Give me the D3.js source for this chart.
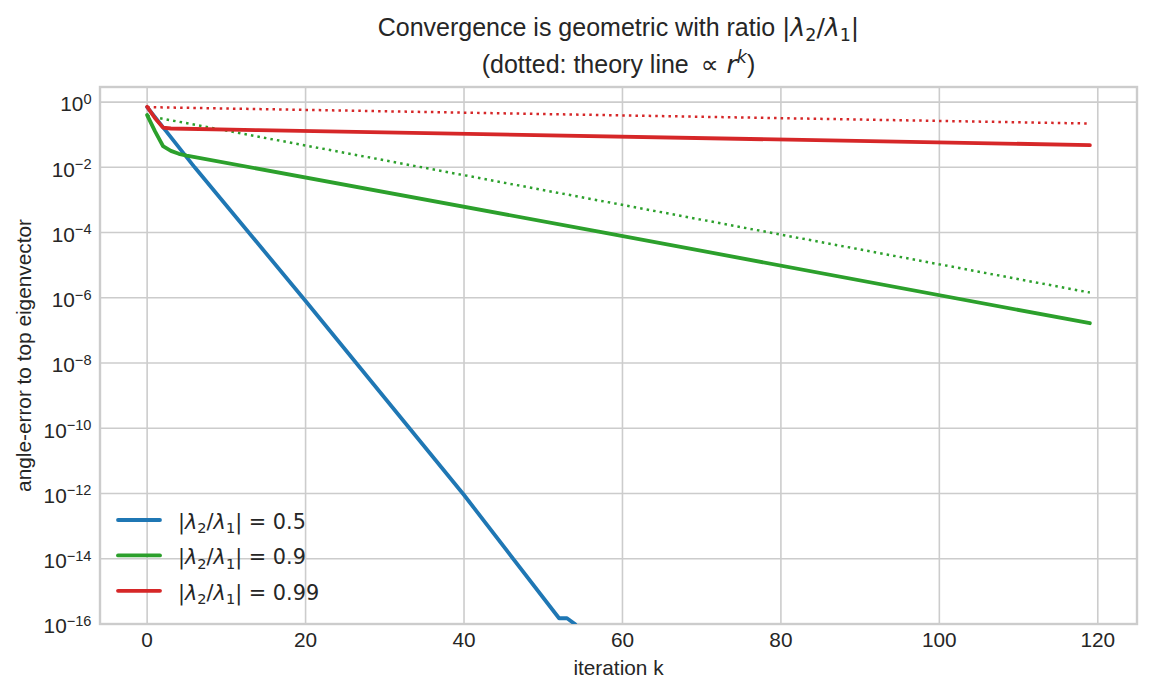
<!DOCTYPE html>
<html>
<head>
<meta charset="utf-8">
<script src="https://cdn.jsdelivr.net/npm/d3@7/dist/d3.min.js"></script>
<style>
  html, body { margin: 0; padding: 0; background: #fff; }
  svg { display: block; }
</style>
</head>
<body>
<div id="chart"></div>
<script>
// --- data (iteration k, angle error) ---
const ratioLabels = ["0.5", "0.9", "0.99"];
const seriesColors = ["#1f77b4", "#2ca02c", "#d62728"];

const errRatio05 = [[0, 0.7], [6, 1.0e-2], [20, 8e-7], [40, 9e-13], [52, 1.5e-16], [53, 1.5e-16], [54, 1.0e-16], [55, 5e-17]];
const errRatio09 = [[0, 0.4], [1, 0.126], [2, 0.045], [3, 0.032], [4, 0.026], [5, 0.023], [57, 1.07e-4], [119, 1.66e-7]];
const errRatio099 = [[0, 0.72], [1, 0.32], [2, 0.165], [3, 0.155], [14, 0.138], [119, 0.048]];

// dotted theory lines (only visible for 0.9 and 0.99)
const theoryRatio09 = [[0, 0.38], [119, 1.45e-6]];
const theoryRatio099 = [[0, 0.7], [119, 0.22]];

const xTicks = [0, 20, 40, 60, 80, 100, 120];
const yTickExponents = [0, -2, -4, -6, -8, -10, -12, -14, -16];

const seriesList = [
    { label: ratioLabels[0], color: seriesColors[0], values: errRatio05, theory: null },
    { label: ratioLabels[1], color: seriesColors[1], values: errRatio09, theory: theoryRatio09 },
    { label: ratioLabels[2], color: seriesColors[2], values: errRatio099, theory: theoryRatio099 }
];

const W = 1152, H = 693;
const plotLeft = 100, plotRight = 1137, plotTop = 87, plotBottom = 624;
const sans = "'Liberation Sans', Arial, sans-serif";
const mathFont = "'DejaVu Sans', sans-serif";

const x = d3.scaleLinear().domain([-5.95, 124.95]).range([plotLeft, plotRight]);
const y = d3.scaleLog().domain([1e-16, 2.9]).range([plotBottom, plotTop]);

const svg = d3.select("#chart").append("svg")
    .attr("width", W)
    .attr("height", H)
    .attr("viewBox", `0 0 ${W} ${H}`);

svg.append("defs").append("clipPath").attr("id", "plot-clip")
    .append("rect")
    .attr("x", plotLeft).attr("y", plotTop)
    .attr("width", plotRight - plotLeft).attr("height", plotBottom - plotTop);

// grid
const grid = svg.append("g").attr("stroke", "#cccccc").attr("stroke-width", 1.6);
grid.selectAll("line.gx").data(xTicks).enter().append("line")
    .attr("x1", d => x(d)).attr("x2", d => x(d))
    .attr("y1", plotTop).attr("y2", plotBottom);
grid.selectAll("line.gy").data(yTickExponents).enter().append("line")
    .attr("x1", plotLeft).attr("x2", plotRight)
    .attr("y1", d => y(Math.pow(10, d))).attr("y2", d => y(Math.pow(10, d)));

// frame
svg.append("rect")
    .attr("x", plotLeft).attr("y", plotTop)
    .attr("width", plotRight - plotLeft).attr("height", plotBottom - plotTop)
    .attr("fill", "none")
    .attr("stroke", "#cccccc")
    .attr("stroke-width", 2.4);

// lines
const line = d3.line().x(d => x(d[0])).y(d => y(d[1]));
const plot = svg.append("g").attr("clip-path", "url(#plot-clip)");

seriesList.forEach(s => {
    plot.append("path")
        .datum(s.values)
        .attr("d", line)
        .attr("fill", "none")
        .attr("stroke", s.color)
        .attr("stroke-width", 3.8)
        .attr("stroke-linejoin", "round")
        .attr("stroke-linecap", "round");
    if (s.theory) {
        plot.append("path")
            .datum(s.theory)
            .attr("d", line)
            .attr("fill", "none")
            .attr("stroke", s.color)
            .attr("stroke-width", 2.5)
            .attr("stroke-dasharray", "2.5,4.1");
    }
});

// x tick labels
svg.selectAll("text.xt").data(xTicks).enter().append("text")
    .attr("x", d => x(d))
    .attr("y", 647)
    .attr("text-anchor", "middle")
    .attr("font-family", sans)
    .attr("font-size", 20.8)
    .attr("fill", "#262626")
    .text(d => d);

// y tick labels: 10^e
const yt = svg.selectAll("text.yt").data(yTickExponents).enter().append("text")
    .attr("x", 91.5)
    .attr("y", d => y(Math.pow(10, d)) + 9.4)
    .attr("text-anchor", "end")
    .attr("font-family", sans)
    .attr("font-size", 20.8)
    .attr("fill", "#262626");
yt.append("tspan").text("10");
yt.append("tspan")
    .attr("font-size", 14.6)
    .attr("dy", -7.5)
    .text(d => d === 0 ? "0" : "\u2212" + Math.abs(d));

// axis labels
svg.append("text")
    .attr("x", (plotLeft + plotRight) / 2)
    .attr("y", 675)
    .attr("text-anchor", "middle")
    .attr("font-family", sans)
    .attr("font-size", 20.8)
    .attr("fill", "#262626")
    .text("iteration k");

svg.append("text")
    .attr("transform", `translate(31,${(plotTop + plotBottom) / 2}) rotate(-90)`)
    .attr("text-anchor", "middle")
    .attr("font-family", sans)
    .attr("font-size", 20.8)
    .attr("fill", "#262626")
    .text("angle-error to top eigenvector");

// |λ2/λ1| in mathtext style
function appendRatio(t, size) {
    const sub = size * 0.7, drop = size * 0.2;
    t.append("tspan").attr("font-family", mathFont).text("|");
    t.append("tspan").attr("font-family", mathFont).attr("font-style", "italic").text("λ");
    t.append("tspan").attr("font-family", mathFont).attr("font-size", sub).attr("dy", drop).text("2");
    t.append("tspan").attr("font-family", mathFont).attr("dy", -drop).text("/");
    t.append("tspan").attr("font-family", mathFont).attr("font-style", "italic").text("λ");
    t.append("tspan").attr("font-family", mathFont).attr("font-size", sub).attr("dy", drop).text("1");
    t.append("tspan").attr("font-family", mathFont).attr("dy", -drop).text("|");
}

// title
const title1 = svg.append("text")
    .attr("x", (plotLeft + plotRight) / 2)
    .attr("y", 36)
    .attr("text-anchor", "middle")
    .attr("font-family", sans)
    .attr("font-size", 25)
    .attr("fill", "#262626");
title1.append("tspan").text("Convergence is geometric with ratio ");
appendRatio(title1, 25);

const title2 = svg.append("text")
    .attr("x", (plotLeft + plotRight) / 2)
    .attr("y", 73)
    .attr("text-anchor", "middle")
    .attr("font-family", sans)
    .attr("font-size", 25)
    .attr("fill", "#262626");
title2.append("tspan").text("(dotted: theory line ");
title2.append("tspan").attr("font-family", mathFont).text("\u2009\u221d ");
title2.append("tspan").attr("font-family", mathFont).attr("font-style", "italic").text("r");
title2.append("tspan").attr("font-family", mathFont).attr("font-style", "italic")
    .attr("font-size", 17.5).attr("dy", -10).text("k");
title2.append("tspan").attr("dy", 10).text(")");

// legend
const legend = svg.append("g");
const legendRows = legend.selectAll("g").data(seriesList).enter().append("g")
    .attr("transform", (d, i) => `translate(0,${520 + i * 35.4})`);
legendRows.append("line")
    .attr("x1", 118).attr("x2", 160)
    .attr("stroke", d => d.color)
    .attr("stroke-width", 3.8)
    .attr("stroke-linecap", "round");
legendRows.append("text")
    .attr("x", 178)
    .attr("y", 9)
    .attr("font-family", mathFont)
    .attr("font-size", 20.8)
    .attr("fill", "#262626")
    .each(function(d) {
        const t = d3.select(this);
        appendRatio(t, 20.8);
        t.append("tspan").text(" = " + d.label);
    });
</script>
</body>
</html>
